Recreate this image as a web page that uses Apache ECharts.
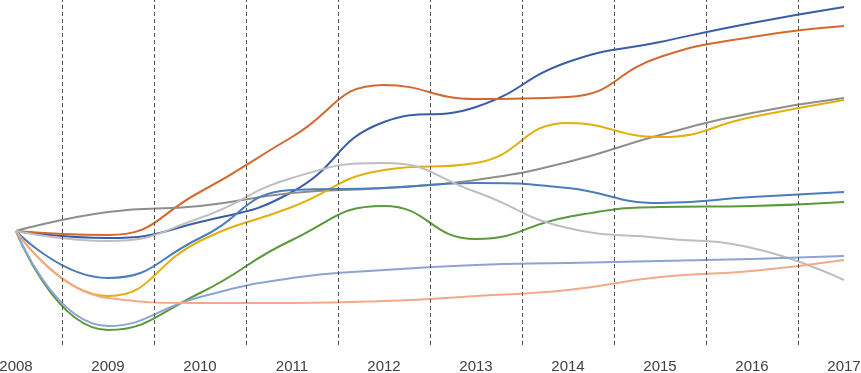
<!DOCTYPE html>
<html>
<head>
<meta charset="utf-8">
<script src="https://cdn.jsdelivr.net/npm/echarts@6/dist/echarts.min.js"></script>
<style>
html,body{margin:0;padding:0;background:#fff;}
#chart{width:861px;height:373px;}
</style>
</head>
<body>
<div id="chart"></div>
<script>
const years = [2008, 2009, 2010, 2011, 2012, 2013, 2014, 2015, 2016, 2017];
const boundaries = [2008.5, 2009.5, 2010.5, 2011.5, 2012.5, 2013.5, 2014.5, 2015.5, 2016.5];

const seriesDarkBlue  = [100, 96.5, 104.5, 119.5, 154.5, 162, 184.5, 194.5, 204, 212];
const seriesOrange    = [100, 98, 119.5, 147, 173, 166, 167, 187, 197, 202.5];
const seriesGray      = [100, 109.5, 112.5, 119, 121.5, 125.5, 134.5, 148, 159, 166.5];
const seriesGold      = [100, 67.5, 95, 112, 130.5, 134, 154, 147, 157, 165.5];
const seriesMidBlue   = [100, 76.5, 96.5, 120.5, 121.5, 124, 121.5, 114, 117, 119.5];
const seriesGreen     = [100, 50.5, 69, 95.5, 112.5, 96, 107, 112, 112.5, 114.5];
const seriesLightGray = [100, 95, 106.5, 126.5, 134, 119.5, 101.5, 96.5, 91.5, 75.5];
const seriesLavender  = [100, 52.5, 67, 76.5, 80.5, 83, 84, 85, 86, 87.5];
const seriesSalmon    = [100, 66.5, 64, 64, 65, 67.5, 70.5, 77, 80, 85.5];

const defs = [
  ['A', seriesDarkBlue, '#3A5DA8'],
  ['B', seriesOrange, '#D2692F'],
  ['C', seriesGray, '#8E8E8E'],
  ['D', seriesGold, '#E2B00A'],
  ['E', seriesMidBlue, '#4A7DBB'],
  ['F', seriesGreen, '#5A9A3C'],
  ['G', seriesLightGray, '#BEBEBE'],
  ['H', seriesLavender, '#8DA3D4'],
  ['I', seriesSalmon, '#F2A98A']
];

const series = defs.map(function (d) {
  return {
    name: d[0],
    type: 'line',
    smooth: 0.5,
    showSymbol: false,
    symbol: 'none',
    data: years.map(function (y, j) { return [y, d[1][j]]; }),
    lineStyle: { color: d[2], width: 2 },
    itemStyle: { color: d[2] },
    z: 3
  };
});

series.unshift({
  name: 'dividers',
  type: 'line',
  data: [],
  silent: true,
  z: 1,
  markLine: {
    silent: true,
    symbol: ['none', 'none'],
    label: { show: false },
    lineStyle: { color: '#555555', width: 1, type: [4, 3] },
    data: boundaries.map(function (b) { return { xAxis: b }; })
  }
});

const chart = echarts.init(document.getElementById('chart'), null, { renderer: 'canvas' });
chart.setOption({
  animation: false,
  backgroundColor: '#ffffff',
  grid: { left: 16, right: 17, top: 0, bottom: 28, containLabel: false, outerBoundsMode: 'none' },
  xAxis: {
    type: 'value',
    min: 2008,
    max: 2017,
    interval: 1,
    axisLine: { show: false },
    axisTick: { show: false },
    splitLine: { show: false },
    axisLabel: {
      color: '#404040',
      fontSize: 15,
      fontFamily: 'Liberation Sans',
      margin: 14,
      showMinLabel: true,
      showMaxLabel: true,
      formatter: function (v) { return String(v); }
    }
  },
  yAxis: {
    type: 'value',
    min: 43,
    max: 215.5,
    show: false,
    splitLine: { show: false }
  },
  series: series
});
</script>
</body>
</html>
